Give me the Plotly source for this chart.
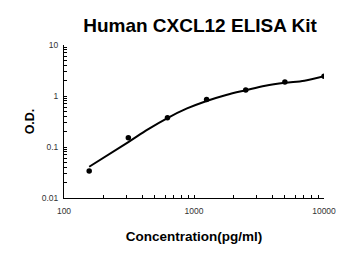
import plotly.graph_objects as go

# Standard points
conc = [156.25, 312.5, 625, 1250, 2500, 5000, 10000]
od = [0.034, 0.152, 0.376, 0.85, 1.31, 1.88, 2.45]

# Fitted curve
curve_x = [156.25, 312.5, 442, 625, 884, 1250, 1768, 2500, 3536, 5000, 7071, 10000]
curve_y = [0.041, 0.125, 0.222, 0.37, 0.57, 0.80, 1.05, 1.30, 1.59, 1.82, 2.0, 2.45]

x_decades = [100, 1000, 10000]
y_decades = [0.01, 0.1, 1, 10]
mults = [1, 2, 3, 4, 5, 6, 7, 8, 9]


def log_ticks(decades):
    vals, texts = [], []
    for i, d in enumerate(decades):
        for m in mults:
            if i == len(decades) - 1 and m > 1:
                break
            v = d * m
            vals.append(v)
            texts.append(f"{d:g}" if m == 1 else "")
    return vals, texts


xv, xt = log_ticks(x_decades)
yv, yt = log_ticks(y_decades)

fig = go.Figure()
fig.add_trace(go.Scatter(x=curve_x, y=curve_y, mode="lines",
                         line=dict(color="black", width=2, shape="spline", smoothing=1.0),
                         hoverinfo="skip", showlegend=False))
fig.add_trace(go.Scatter(x=conc, y=od, mode="markers",
                         marker=dict(color="black", size=5.5),
                         showlegend=False))

font_family = "Liberation Sans, Arial, sans-serif"
fig.update_layout(
    width=350, height=255,
    margin=dict(l=64, r=26, t=45, b=57),
    paper_bgcolor="white", plot_bgcolor="white",
    title=dict(text="<b>Human CXCL12 ELISA Kit</b>", xref="paper", x=200 / 350,
               xanchor="center", y=1 - 25 / 255, yanchor="middle",
               font=dict(family=font_family, size=19, color="black")),
    font=dict(family=font_family, color="#333"),
)
fig.update_layout(title_xref="container")
fig.update_xaxes(
    type="log", range=[2, 4],
    tickvals=xv, ticktext=xt,
    ticks="inside", ticklen=3, tickcolor="black", tickwidth=1,
    ticklabelstandoff=5,
    showline=True, linecolor="black", linewidth=1,
    showgrid=False, zeroline=False,
    tickfont=dict(size=8.5, color="#333"),
    title=dict(text="<b>Concentration(pg/ml)</b>", standoff=16,
               font=dict(size=13.5, color="black")),
)
fig.update_yaxes(
    type="log", range=[-2, 1],
    tickvals=yv, ticktext=yt,
    ticks="inside", ticklen=3, tickcolor="black", tickwidth=1,
    ticklabelstandoff=3,
    showline=True, linecolor="black", linewidth=1,
    showgrid=False, zeroline=False,
    tickfont=dict(size=8.5, color="#333"),
    title=dict(text="<b>O.D.</b>", standoff=4,
               font=dict(size=12.5, color="black")),
)

fig.write_html("out.html")
